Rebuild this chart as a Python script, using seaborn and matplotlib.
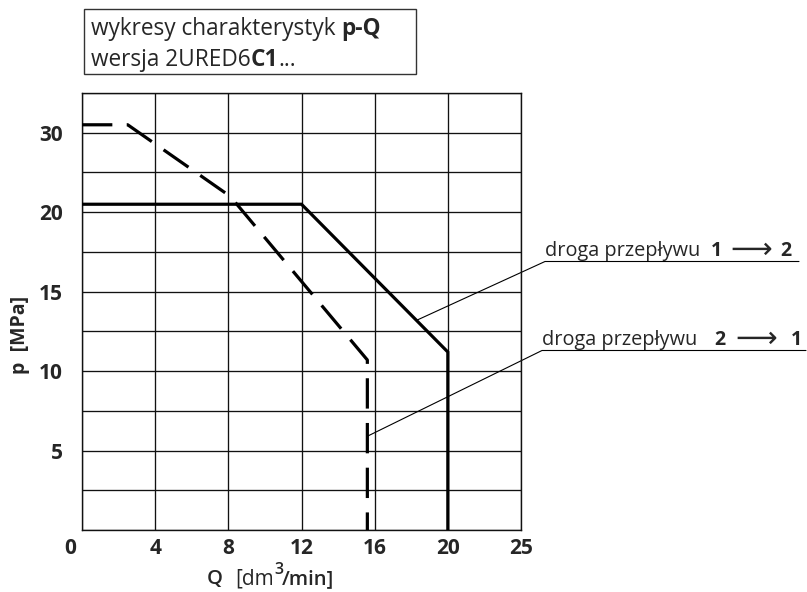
import matplotlib
matplotlib.use("Agg")
import matplotlib.pyplot as plt
import seaborn as sns
from matplotlib.patches import Rectangle

# data in axis units (grid: 4 per column on Q, 2.5 per row on p)
q_1to2 = [0, 12, 20, 20]
p_1to2 = [20.5, 20.5, 11.2, 0]
q_2to1 = [0, 2.5, 8.1, 15.6, 15.6]
p_2to1 = [25.5, 25.5, 21.0, 10.7, 0]

x_ticks = [0, 4, 8, 12, 16, 20, 24]
x_labels = ["", "4", "8", "12", "16", "20", "25"]
y_ticks = [5, 10, 15, 20, 25]
y_labels = ["5", "10", "15", "20", "30"]

sns.set_style("white")
plt.rcParams['font.family'] = ['Open Sans', 'DejaVu Sans']

W, H = 807, 592
fig = plt.figure(figsize=(W / 100, H / 100), dpi=100)
ax = fig.add_axes([82 / W, 1 - 530 / H, (521 - 82) / W, (530 - 93) / H])


def ftext(x, y, s, **kw):
    # text placed by pixel position (x left, y baseline)
    kw.setdefault("va", "baseline")
    return fig.text(x / W, 1 - y / H, s, **kw)


# grid
for gx in range(0, 25, 4):
    ax.axvline(gx, color="#111111", lw=0.95, zorder=1)
for i in range(12):
    ax.axhline(i * 2.5, color="#111111", lw=0.95, zorder=1)

sns.lineplot(x=q_1to2, y=p_1to2, sort=False, estimator=None, color="black",
             lw=2.3, ax=ax, zorder=3, solid_joinstyle="miter")
sns.lineplot(x=q_2to1, y=p_2to1, sort=False, estimator=None, color="black",
             lw=2.3, ax=ax, zorder=3, linestyle=(0, (9.5, 4.5)))

ax.set_xlim(0, 24)
ax.set_ylim(0, 27.5)
ax.set_xticks(x_ticks)
ax.set_xticklabels(x_labels, fontsize=15, fontweight="bold")
ax.set_yticks(y_ticks)
ax.set_yticklabels(y_labels, fontsize=15, fontweight="bold")
ax.tick_params(axis="x", length=0, pad=6)
ax.tick_params(axis="y", length=0, pad=14)
ax.annotate("0", xy=(0, 0), xytext=(-8.6, -6), textcoords="offset points",
            ha="center", va="top", fontsize=15, fontweight="bold")
for s in ax.spines.values():
    s.set_color("#111111")
    s.set_linewidth(1.0)
ax.set_xlabel("")
ax.set_ylabel("")

# axis titles
ftext(207, 584, "Q", fontsize=14.5, fontweight="semibold")
ftext(235, 584, "[dm", fontsize=15)
ftext(274, 574, "3", fontsize=11.5, fontweight="semibold")
ftext(282, 584, "/min]", fontsize=14.5, fontweight="semibold")
fig.text(20 / W, 1 - 335 / H, "p  [MPa]", ha="center", va="center",
         rotation=90, fontsize=14, fontweight="bold")

# leader lines with labels
px = 24 / (521 - 82)
py = 27.5 / (530 - 93)


def to_data(x, y):
    return (x - 82) * px, (530 - y) * py


for start, knee, end in [((18.3, 13.2), (545, 261.5), (799, 261.5)),
                         ((15.6, 5.9), (542, 350.5), (806, 350.5))]:
    k = to_data(*knee)
    e = to_data(*end)
    ax.plot([start[0], k[0], e[0]], [start[1], k[1], e[1]],
            color="black", lw=0.8, clip_on=False)

ftext(545, 256.5, "droga przepływu", fontsize=14.3)
ftext(711, 256.5, "1", fontsize=14, fontweight="bold")
ftext(751.5, 258, "⟶", fontsize=21, ha="center", family="DejaVu Sans")
ftext(780, 256.5, "2", fontsize=14, fontweight="bold")

ftext(542, 345, "droga przepływu", fontsize=14.3)
ftext(714, 345, "2", fontsize=14, fontweight="bold")
ftext(756.5, 346.5, "⟶", fontsize=21, ha="center", family="DejaVu Sans")
ftext(791, 345, "1", fontsize=14, fontweight="bold")

# header box
fig.add_artist(Rectangle((84 / W, 1 - 74 / H), (416 - 84) / W, (74 - 9) / H,
                         transform=fig.transFigure, fill=False,
                         edgecolor="#333333", lw=1.0))
t = ftext(91, 35, "wykresy charakterystyk ", fontsize=16.3)
ax.annotate("p-Q", xy=(1, 0), xycoords=t, va="bottom", fontsize=16.3,
            fontweight="bold")
t = ftext(91, 66, "wersja 2URED6", fontsize=16.3)
t2 = ax.annotate("C1", xy=(1, 0), xycoords=t, va="bottom", fontsize=16.3,
                 fontweight="bold")
ax.annotate("...", xy=(1, 0), xycoords=t2, va="bottom", fontsize=16.3)

fig.savefig("out.png", dpi=100)
